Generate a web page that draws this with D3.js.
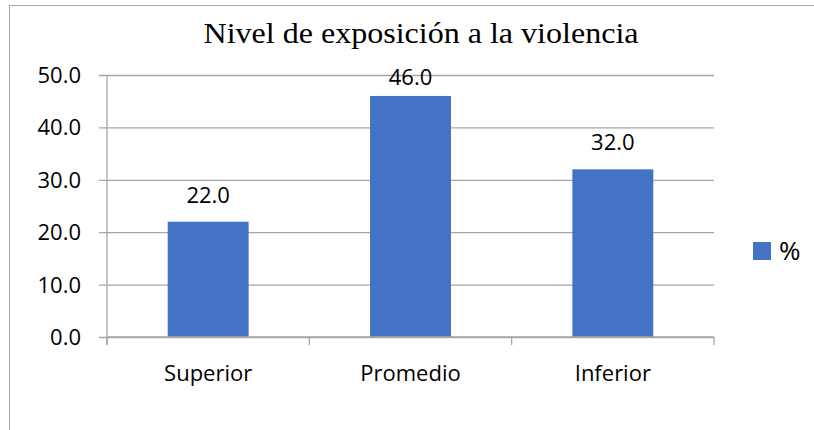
<!DOCTYPE html>
<html>
<head>
<meta charset="utf-8">
<script src="https://cdn.jsdelivr.net/npm/d3@7"></script>
<style>
html, body { margin: 0; padding: 0; background: #fff; }
svg { display: block; }
</style>
</head>
<body>
<svg id="chart" width="814" height="430"></svg>
<script>
const categories = ["Superior", "Promedio", "Inferior"];
const values = [22.0, 46.0, 32.0];
const yTicks = [0, 10, 20, 30, 40, 50];
const seriesName = "%";
const title = "Nivel de exposición a la violencia";

const W = 814, H = 430;
const svg = d3.select("#chart");
const font = "'Open Sans', 'Noto Sans', sans-serif";
const grid = "#a6a6a6";
const barColor = "#4472C4";

// outer frame (extends beyond view on right/bottom)
svg.append("rect")
  .attr("x", 9.5).attr("y", 5.5)
  .attr("width", W + 20).attr("height", H + 20)
  .attr("fill", "#fff").attr("stroke", "#a6a6a6").attr("stroke-width", 1);

const plot = { left: 107, right: 714, top: 75, bottom: 337 };

const x = d3.scaleBand().domain(categories)
  .range([plot.left, plot.right]).paddingInner(0.6).paddingOuter(0.3);
const xOuter = d3.scaleBand().domain(categories).range([plot.left, plot.right]);
const y = d3.scaleLinear().domain([0, 50]).range([plot.bottom, plot.top]);

// title
svg.append("text")
  .attr("x", 421).attr("y", 43)
  .attr("text-anchor", "middle")
  .attr("font-family", "'Liberation Serif', 'Times New Roman', serif")
  .attr("font-size", 29).attr("fill", "#000")
  .attr("textLength", 435).attr("lengthAdjust", "spacingAndGlyphs")
  .text(title);

// gridlines + y axis
const yAxis = d3.axisLeft(y).tickValues(yTicks).tickFormat(d3.format(".1f"))
  .tickSize(-(plot.right - plot.left)).tickPadding(18);
const gy = svg.append("g").attr("transform", `translate(${plot.left},0)`).call(yAxis);
gy.select(".domain").remove();
gy.selectAll(".tick line").attr("stroke", grid).attr("stroke-width", 1.3)
  .attr("x1", -8);
gy.selectAll(".tick text").attr("font-family", font).attr("font-size", 22)
  .attr("fill", "#000").attr("x", -26).attr("dy", "0.34em");

// vertical axis line
svg.append("line")
  .attr("x1", plot.left).attr("x2", plot.left)
  .attr("y1", plot.top).attr("y2", plot.bottom + 8)
  .attr("stroke", grid).attr("stroke-width", 1.3);

// x axis ticks at category boundaries
const bounds = categories.map(c => xOuter(c)).concat([plot.right]);
svg.append("g").selectAll("line").data(bounds).join("line")
  .attr("x1", d => d).attr("x2", d => d)
  .attr("y1", plot.bottom).attr("y2", plot.bottom + 8)
  .attr("stroke", grid).attr("stroke-width", 1.3);

// bars
svg.append("g").selectAll("rect").data(values).join("rect")
  .attr("x", (d, i) => x(categories[i]))
  .attr("width", x.bandwidth())
  .attr("y", d => y(d))
  .attr("height", d => y(0) - y(d))
  .attr("fill", barColor);

// x axis line (on top)
svg.append("line")
  .attr("x1", plot.left).attr("x2", plot.right)
  .attr("y1", plot.bottom).attr("y2", plot.bottom)
  .attr("stroke", grid).attr("stroke-width", 1.3);

// category labels
svg.append("g").selectAll("text").data(categories).join("text")
  .attr("x", d => x(d) + x.bandwidth() / 2)
  .attr("y", plot.bottom + 44)
  .attr("text-anchor", "middle")
  .attr("font-family", font).attr("font-size", 22).attr("fill", "#000")
  .text(d => d);

// value labels (kept inside plot area like Excel)
svg.append("g").selectAll("text").data(values).join("text")
  .attr("x", (d, i) => x(categories[i]) + x.bandwidth() / 2)
  .attr("y", d => Math.max(y(d) - 19, plot.top + 10))
  .attr("text-anchor", "middle")
  .attr("font-family", font).attr("font-size", 22).attr("fill", "#000")
  .text(d => d3.format(".1f")(d));

// legend
const lg = svg.append("g").attr("transform", "translate(753,242)");
lg.append("rect").attr("width", 18).attr("height", 18).attr("fill", barColor);
lg.append("text").attr("x", 26).attr("y", 18)
  .attr("font-family", font).attr("font-size", 26).attr("fill", "#000")
  .text(seriesName);
</script>
</body>
</html>
